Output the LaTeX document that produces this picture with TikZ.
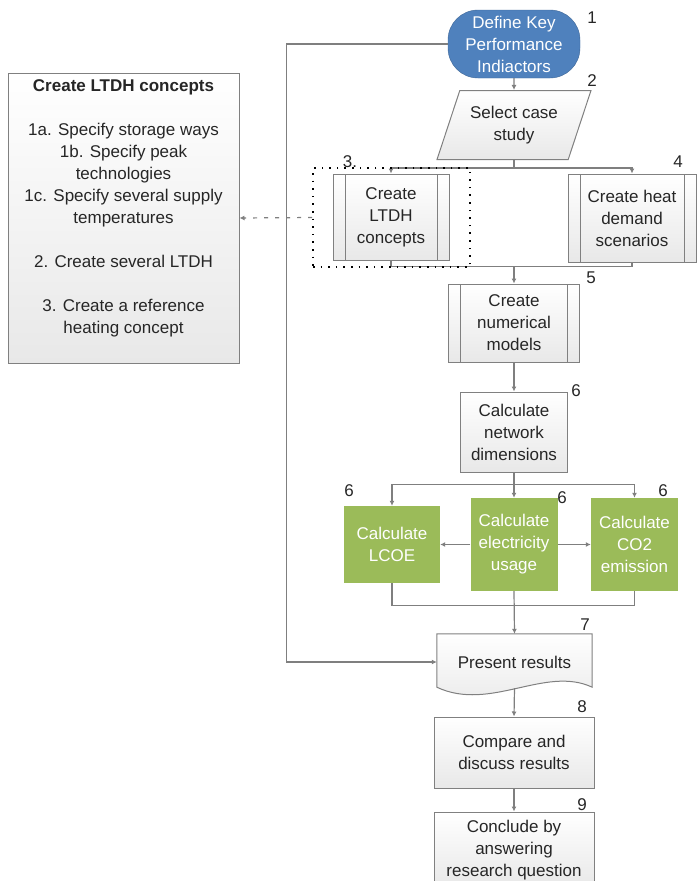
\documentclass[tikz,border=0pt]{standalone}
\usepackage{fontspec}
\setmainfont{Liberation Sans}
\usepackage{tikz}
\usetikzlibrary{arrows.meta,calc,shapes.geometric,backgrounds}

\definecolor{kpiblue}{HTML}{4F81BD}
\definecolor{calcgreen}{HTML}{9BBB59}
\definecolor{lncol}{HTML}{7F7F7F}
\definecolor{txtcol}{HTML}{262626}

\begin{document}
\begin{tikzpicture}[x=1pt,y=-1pt,
  every node/.style={font=\fontsize{17}{22}\selectfont, text=txtcol, align=center, inner sep=0pt},
  greybox/.style={draw=black!50, line width=1pt, top color=white, bottom color=black!9},
  procbox/.style={greybox, path picture={
      \draw[black!50, line width=1pt] ([xshift=12pt]path picture bounding box.north west) -- ([xshift=12pt]path picture bounding box.south west);
      \draw[black!50, line width=1pt] ([xshift=-12pt]path picture bounding box.north east) -- ([xshift=-12pt]path picture bounding box.south east);}},
  greenbox/.style={fill=calcgreen, text=white},
  numlbl/.style={font=\fontsize{17}{20}\selectfont},
  conn/.style={draw=lncol, line width=1.2pt, -{Latex[length=5pt,width=5pt]}},
  link/.style={draw=lncol, line width=1.2pt}]
\path[use as bounding box, clip] (0,0) rectangle (697,881);
% main flow
\node[draw=kpiblue!80!black, fill=kpiblue, text=white, rounded corners=30pt, minimum width=132pt, minimum height=68pt] (kpi) at (514,44) {Define Key\\Performance\\Indiactors};
\node[greybox, trapezium, trapezium left angle=64, trapezium right angle=116, trapezium stretches=true, minimum width=154pt, minimum height=69pt] (cs) at (514,125) {Select case\\study};
\node[procbox, minimum width=116pt, minimum height=86pt] (ltdhc) at (391,217) {Create\\LTDH\\concepts};
\node[procbox, minimum width=128pt, minimum height=88pt] (heat) at (632,218) {Create heat\\demand\\scenarios};
\node[procbox, minimum width=131pt, minimum height=78pt] (model) at (514,323) {Create\\numerical\\models};
\node[greybox, minimum width=107pt, minimum height=80pt] (netdim) at (514,432) {Calculate\\network\\dimensions};
\node[greenbox, minimum width=96pt, minimum height=77pt] (lcoe) at (392,544.5) {Calculate\\LCOE};
\node[greenbox, minimum width=87pt, minimum height=93pt] (elec) at (514,544.5) {Calculate\\electricity\\usage};
\node[greenbox, minimum width=87pt, minimum height=93pt] (co2) at (634.5,544.5) {Calculate\\CO2\\emission};
\node[minimum width=155pt, minimum height=56pt] (pres) at (514.5,662) {Present results};
\node[greybox, minimum width=160pt, minimum height=71pt] (cmp) at (514,752.5) {Compare and\\discuss results};
\node[greybox, minimum width=160pt, minimum height=76pt] (concl) at (514,850) {Conclude by\\answering\\research question};
% document shape behind "Present results"
\begin{scope}[on background layer]
\path[greybox] (pres.north west) -- (pres.north east) -- ($(pres.south east)+(0,-3)$)
  .. controls ($(pres.south east)+(-47,-25)$) and ($(pres.south east)+(-102,22)$) .. ($(pres.south west)+(0,-3)$) -- cycle;
\end{scope}
% side panel
\node[greybox, minimum width=231pt, minimum height=290pt] (ltdh) at (123.5,218) {};
\node (ltdhtxt) at (123.5,208) {\textbf{Create LTDH concepts}\\[22pt]1a. Specify storage ways\\1b. Specify peak\\technologies\\1c. Specify several supply\\temperatures\\[22pt]2. Create several LTDH\\[22pt]3. Create a reference\\heating concept};
% step numbers
\node[numlbl] (l1) at (592,18) {1};
\node[numlbl] (l2) at (592,81) {2};
\node[numlbl] (l3) at (350,162) {3.};
\node[numlbl] (l4) at (678,162) {4};
\node[numlbl] (l5) at (591,278) {5};
\node[numlbl] (l6a) at (576,391) {6};
\node[numlbl] (l6b) at (349,491) {6};
\node[numlbl] (l6c) at (562,498) {6};
\node[numlbl] (l6d) at (663,491) {6};
\node[numlbl] (l7) at (585,625) {7};
\node[numlbl] (l8) at (582,707) {8};
\node[numlbl] (l9) at (582,805) {9};
% connectors
\draw[conn] (kpi.south) -- (cs.north);
\draw[conn] (kpi.west) -- ++(-161,0) |- (pres.west);
\draw[conn] (cs.south) -- ++(0,8) -| (ltdhc.north);
\draw[conn] (cs.south) -- ++(0,8) -| (heat.north);
\coordinate (mrg1) at ($(model.north)+(0,-17)$);
\draw[link] (ltdhc.south) |- (mrg1) -| (heat.south);
\draw[conn] (mrg1) -- (model.north);
\draw[conn] (model.south) -- (netdim.north);
\draw[conn] (netdim.south) -- ++(0,12) -| (lcoe.north);
\draw[conn] (netdim.south) -- (elec.north);
\draw[conn] (netdim.south) -- ++(0,12) -| (co2.north);
\draw[conn] (elec.west) -- (lcoe.east);
\draw[conn] (elec.east) -- (co2.west);
\coordinate (mrg2) at ($(pres.north)+(0,-28)$);
\draw[link] (lcoe.south) |- (mrg2) -| (co2.south);
\draw[conn] (elec.south) -- (pres.north);
\draw[conn] ($(pres.south)+(0,-2)$) -- (cmp.north);
\draw[conn] (cmp.south) -- (concl.north);
% detail group
\node[draw=black, line width=1.6pt, dash pattern=on 1.6pt off 6pt, minimum width=157pt, minimum height=99pt] (grp) at (391.5,217.5) {};
\draw[link, dash pattern=on 4pt off 7pt, -{Latex[length=5pt,width=5pt]}] (grp.west) -- (ltdh.east);
\end{tikzpicture}
\end{document}
